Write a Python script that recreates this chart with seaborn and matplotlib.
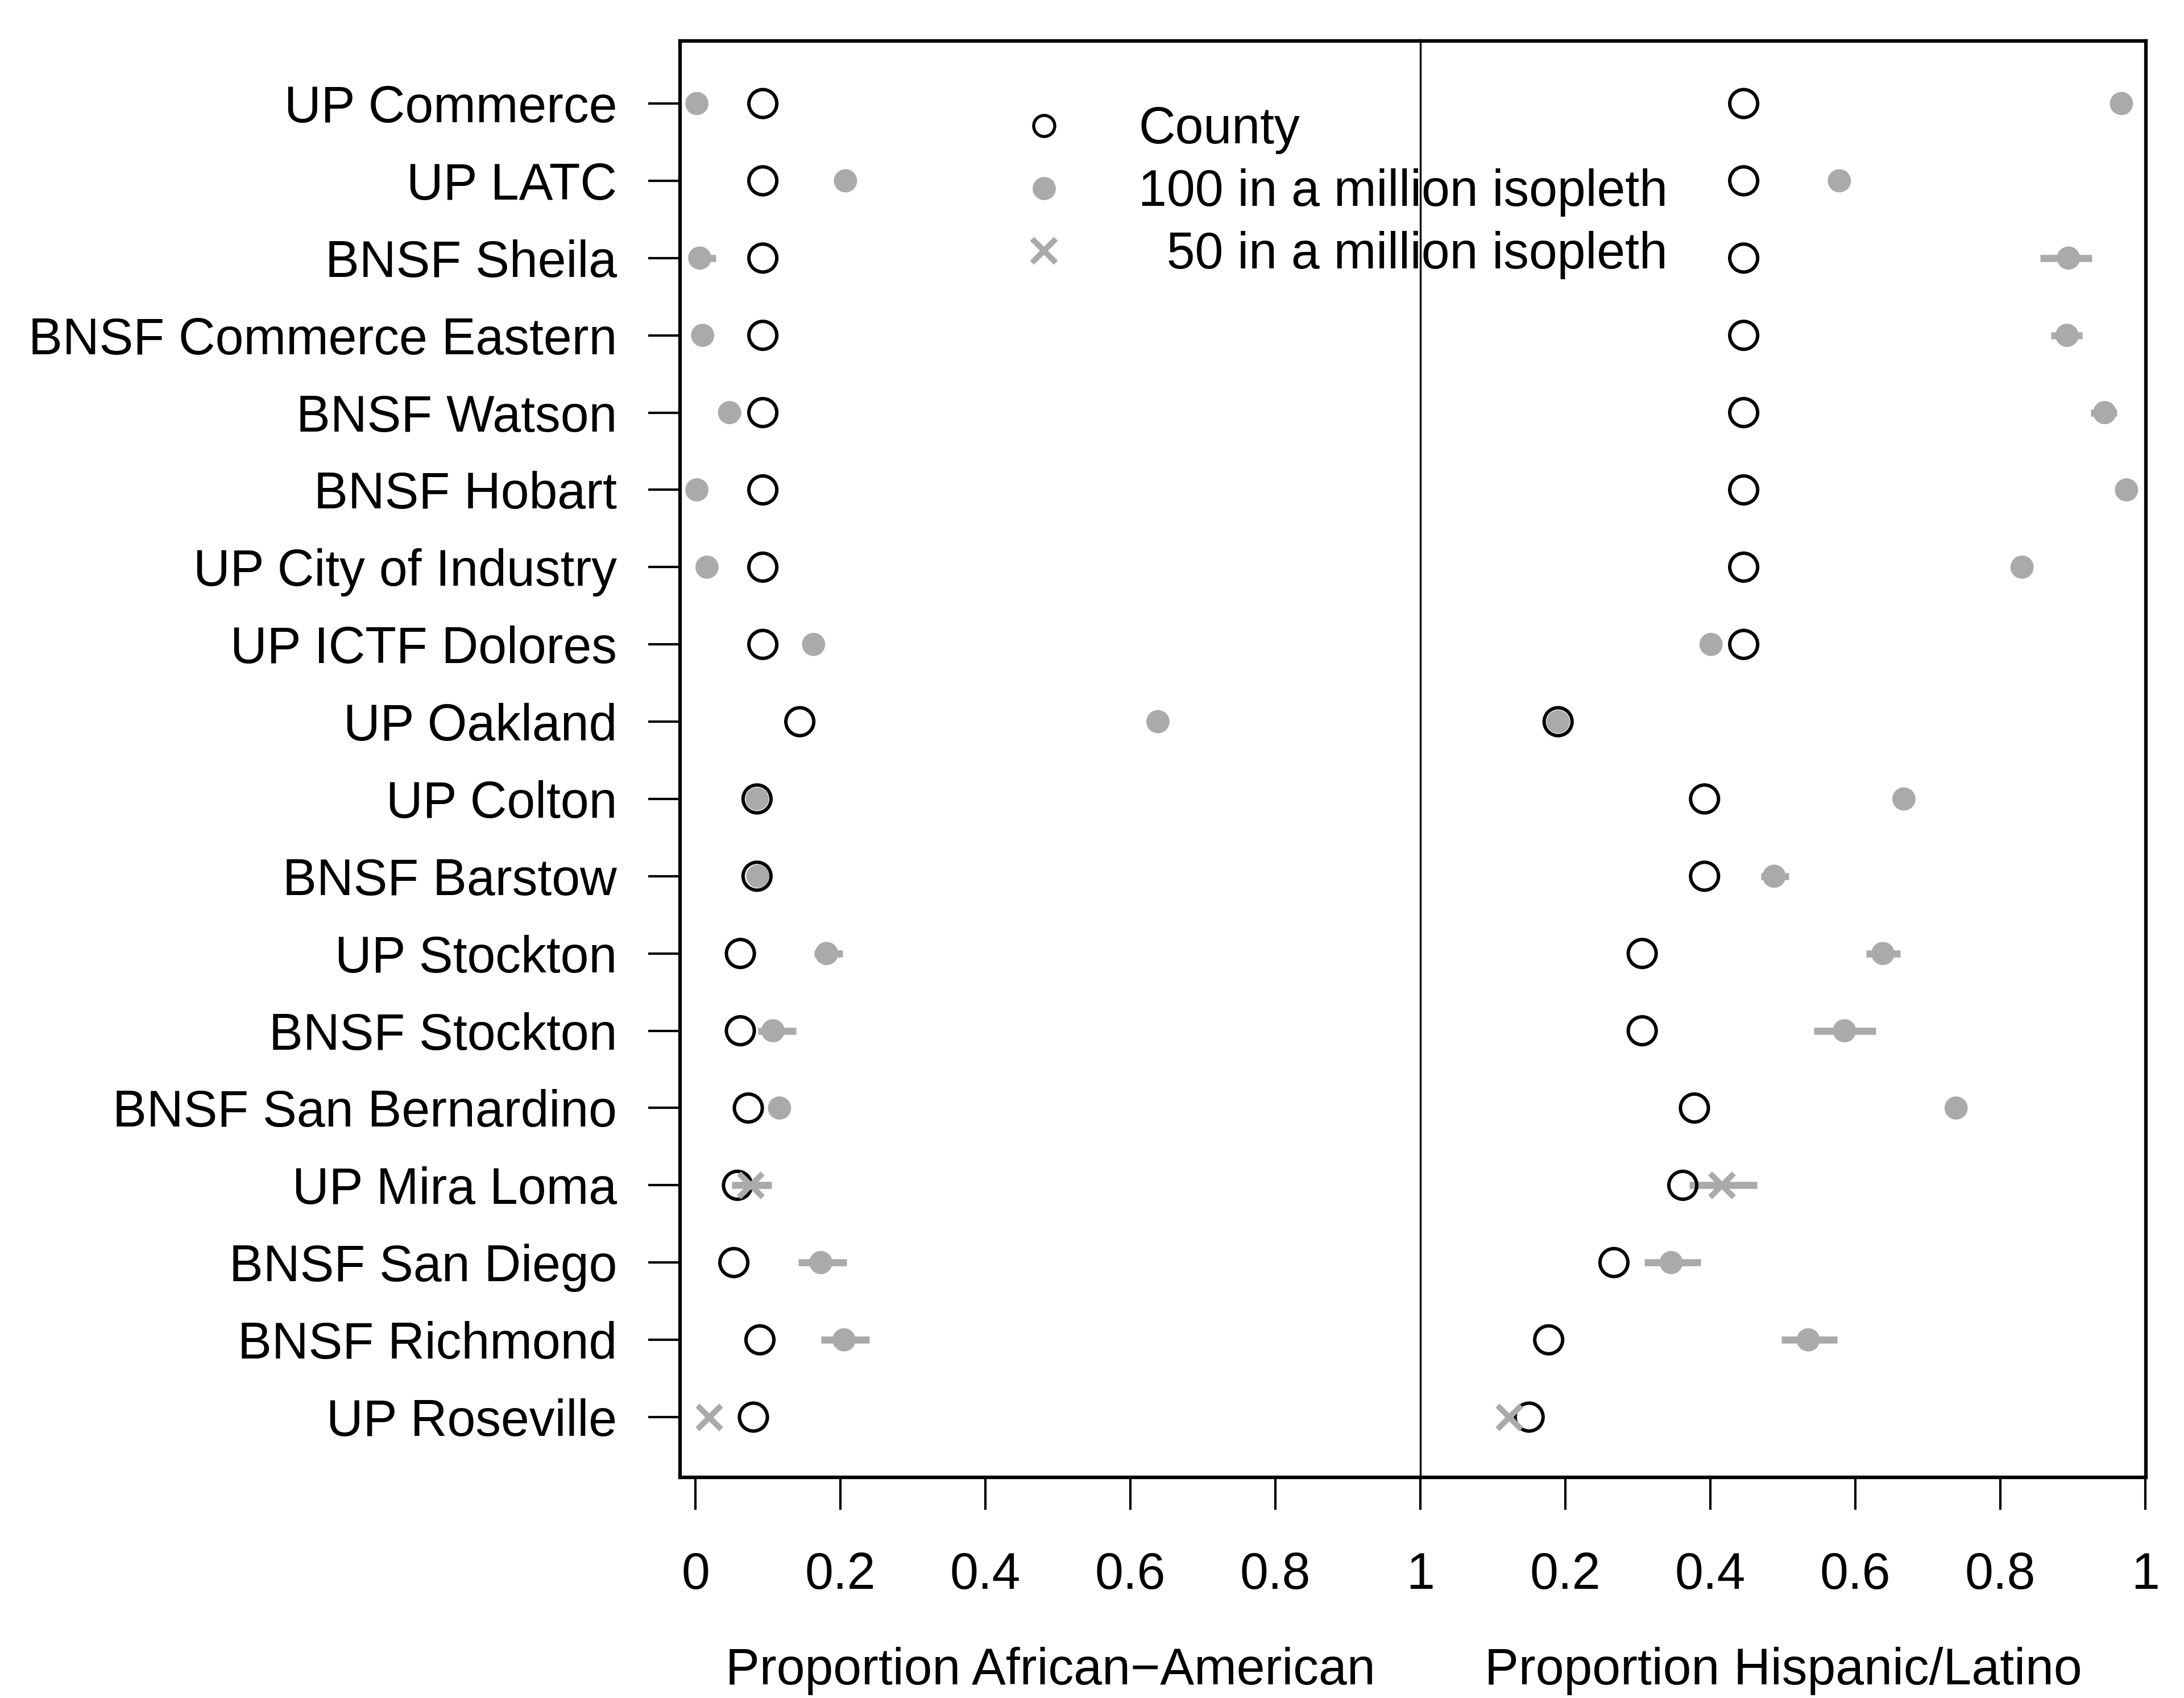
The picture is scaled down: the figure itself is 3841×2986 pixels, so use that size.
import numpy as np
import pandas as pd
import matplotlib
matplotlib.use("Agg")
import matplotlib.pyplot as plt
import seaborn as sns
from matplotlib.lines import Line2D

# ---------------- data ----------------
sites = ["UP Commerce", "UP LATC", "BNSF Sheila", "BNSF Commerce Eastern",
         "BNSF Watson", "BNSF Hobart", "UP City of Industry", "UP ICTF Dolores",
         "UP Oakland", "UP Colton", "BNSF Barstow", "UP Stockton",
         "BNSF Stockton", "BNSF San Bernardino", "UP Mira Loma",
         "BNSF San Diego", "BNSF Richmond", "UP Roseville"]

# isopleth level used for each site ("100" = 100 in a million, "50" = 50 in a million)
iso_level = ["100", "100", "100", "100", "100", "100", "100", "100", "100",
             "100", "100", "100", "100", "100", "50", "100", "100", "50"]

# Proportion African-American
county_aa = [0.093, 0.093, 0.093, 0.093, 0.093, 0.093, 0.093, 0.093, 0.144,
             0.085, 0.085, 0.062, 0.062, 0.073, 0.058, 0.053, 0.089, 0.080]
iso_aa    = [0.002, 0.207, 0.006, 0.010, 0.047, 0.002, 0.016, 0.163, 0.638,
             0.085, 0.086, 0.181, 0.107, 0.116, 0.076, 0.173, 0.205, 0.019]
iso_aa_lo = [0.002, 0.207, 0.000, 0.010, 0.035, 0.002, 0.016, 0.163, 0.638,
             0.085, 0.086, 0.164, 0.086, 0.116, 0.050, 0.142, 0.173, 0.019]
iso_aa_hi = [0.002, 0.207, 0.028, 0.010, 0.063, 0.002, 0.016, 0.163, 0.638,
             0.085, 0.086, 0.203, 0.139, 0.116, 0.105, 0.209, 0.240, 0.019]

# Proportion Hispanic/Latino
county_hl = [0.446, 0.446, 0.446, 0.446, 0.446, 0.446, 0.446, 0.446, 0.190,
             0.392, 0.392, 0.306, 0.306, 0.378, 0.362, 0.267, 0.177, 0.150]
iso_hl    = [0.967, 0.578, 0.894, 0.892, 0.944, 0.974, 0.830, 0.401, 0.190,
             0.667, 0.488, 0.638, 0.585, 0.739, 0.416, 0.346, 0.535, 0.122]
iso_hl_lo = [0.967, 0.578, 0.855, 0.870, 0.925, 0.974, 0.830, 0.401, 0.190,
             0.667, 0.470, 0.615, 0.543, 0.739, 0.371, 0.309, 0.498, 0.122]
iso_hl_hi = [0.967, 0.578, 0.926, 0.913, 0.961, 0.974, 0.830, 0.401, 0.190,
             0.667, 0.508, 0.662, 0.628, 0.739, 0.464, 0.387, 0.575, 0.122]

xlabels = ["Proportion African\u2212American", "Proportion Hispanic/Latino"]
legend_labels = ["County", "100 in a million isopleth", "  50 in a million isopleth"]

df = pd.DataFrame({
    "site": sites, "pos": np.arange(len(sites)), "level": iso_level,
    "county_aa": county_aa, "iso_aa": iso_aa, "iso_aa_lo": iso_aa_lo, "iso_aa_hi": iso_aa_hi,
    "county_hl": county_hl, "iso_hl": iso_hl, "iso_hl_lo": iso_hl_lo, "iso_hl_hi": iso_hl_hi,
})

# ---------------- style ----------------
sns.set_theme(style="white")
plt.rcParams["font.family"] = ["Liberation Sans", "DejaVu Sans"]
FS = 21.5
GRAY = "#AAAAAA"

W, H = 3841, 2986
fig = plt.figure(figsize=(W / 300, H / 300), dpi=300)
fig.patch.set_facecolor("white")

left_px, mid_px, right_px = 1196, 2498, 3774
top_px, bot_px = 72, 2598
ax_l = fig.add_axes([left_px / W, 1 - bot_px / H, (mid_px - left_px) / W, (bot_px - top_px) / H])
ax_r = fig.add_axes([mid_px / W, 1 - bot_px / H, (right_px - mid_px) / W, (bot_px - top_px) / H])


def draw_panel(ax, ccol, icol, locol, hicol):
    ax.set_facecolor("none")
    # confidence bars
    ax.hlines(df["pos"], df[locol], df[hicol], colors=GRAY, linewidth=3.0, zorder=2)
    # county values
    sns.scatterplot(data=df, x=ccol, y="pos", ax=ax, marker="o", s=139,
                    facecolor="none", edgecolor="black", linewidth=1.45, zorder=3)
    # isopleth values
    d100 = df[df["level"] == "100"]
    d50 = df[df["level"] == "50"]
    sns.scatterplot(data=d100, x=icol, y="pos", ax=ax, marker="o", s=96,
                    color=GRAY, edgecolor="none", linewidth=0, zorder=4)
    sns.scatterplot(data=d50, x=icol, y="pos", ax=ax, marker="x", s=100,
                    color=GRAY, linewidth=2.4, zorder=4)
    ax.set_ylim(17.78, -0.81)
    ax.set_ylabel("")


draw_panel(ax_l, "county_aa", "iso_aa", "iso_aa_lo", "iso_aa_hi")
draw_panel(ax_r, "county_hl", "iso_hl", "iso_hl_lo", "iso_hl_hi")

# x axes
ax_l.set_xlim(-0.0212, 1.0)
ax_r.set_xlim(0.0, 1.0008)
ax_l.set_xticks([0, 0.2, 0.4, 0.6, 0.8, 1.0])
ax_l.set_xticklabels(["0", "0.2", "0.4", "0.6", "0.8", "1"])
ax_r.set_xticks([0.2, 0.4, 0.6, 0.8, 1.0])
ax_r.set_xticklabels(["0.2", "0.4", "0.6", "0.8", "1"])

ax_l.set_yticks(df["pos"])
ax_l.set_yticklabels(df["site"])
ax_r.set_yticks([])

for ax in (ax_l, ax_r):
    ax.tick_params(axis="x", direction="out", length=13.7, width=1.0, pad=17.4,
                   labelsize=FS, colors="black", bottom=True)
    ax.tick_params(axis="y", direction="out", length=13.4, width=1.0, pad=13.2,
                   labelsize=FS, colors="black", left=True)
    for sp in ax.spines.values():
        sp.set_color("black")
        sp.set_linewidth(1.5)

ax_l.spines["right"].set_visible(False)
ax_r.spines["left"].set_linewidth(0.8)
ax_r.tick_params(axis="y", left=False)

ax_l.set_xlabel(xlabels[0], fontsize=FS, color="black", labelpad=20)
ax_r.set_xlabel(xlabels[1], fontsize=FS, color="black", labelpad=20)

# legend
handles = [
    Line2D([], [], marker="o", ls="", mfc="none", mec="black", ms=8.9, mew=1.3),
    Line2D([], [], marker="o", ls="", mfc=GRAY, mec="none", ms=9.8, mew=0),
    Line2D([], [], marker="x", ls="", color=GRAY, ms=10, mew=2.4),
]
leg = fig.legend(handles, legend_labels, loc="upper left",
                 bbox_to_anchor=(1791 / W, 1 - 186 / H), frameon=False,
                 fontsize=FS, borderpad=0, borderaxespad=0, handlelength=1.0,
                 handletextpad=1.36, labelspacing=0.28)
for t in leg.get_texts():
    t.set_color("black")
leg.set_zorder(-1)

fig.savefig("out.png", dpi=300, facecolor="white")
